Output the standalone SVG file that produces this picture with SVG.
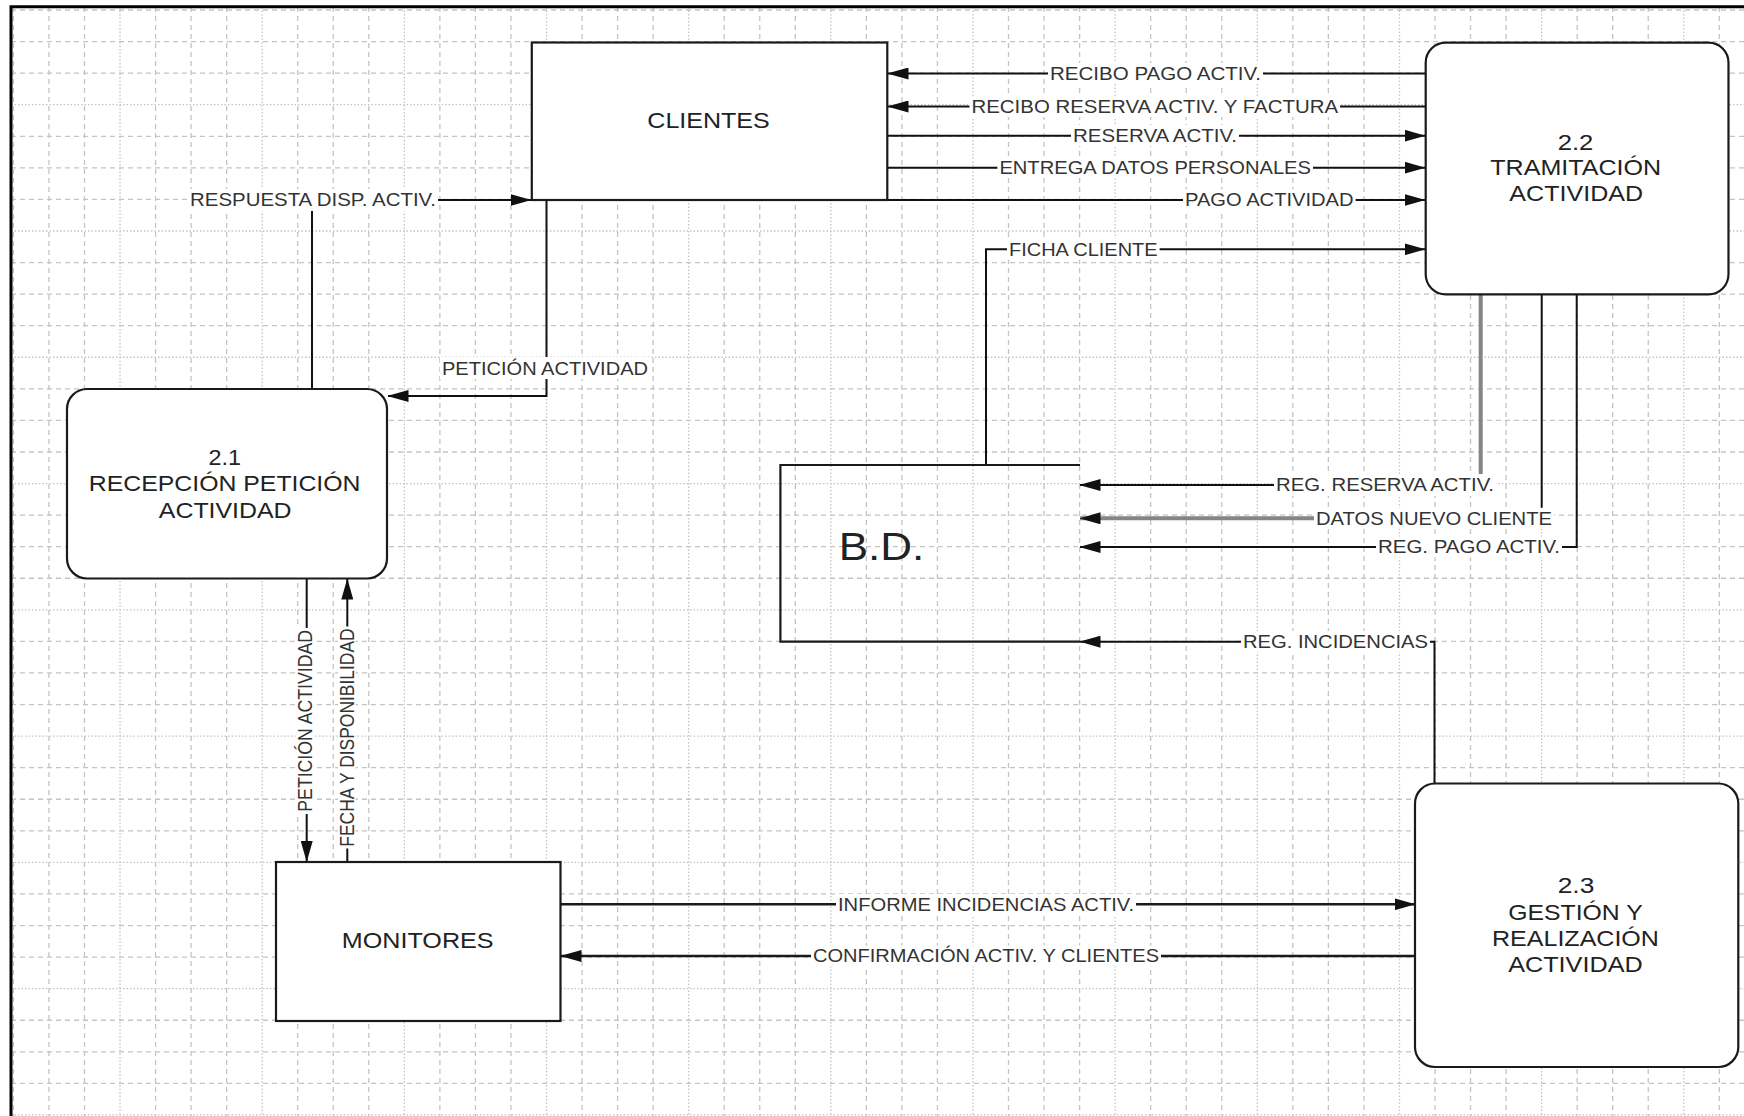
<svg xmlns="http://www.w3.org/2000/svg" width="1744" height="1116" viewBox="0 0 1744 1116">
<style>
.gd{fill:none;stroke:#c4c4c4;stroke-width:1.3;stroke-dasharray:5 4}
.gt{fill:none;stroke:#c4c4c4;stroke-width:1.3;stroke-dasharray:1.5 2}
.node{fill:#fff;stroke:#1a1a1a;stroke-width:2.2}
.store{fill:none;stroke:#1a1a1a;stroke-width:2.2}
.c{fill:none;stroke:#111;stroke-width:2}
.cw{fill:none;stroke:#1a1a1a;stroke-width:2.6}
.gray{fill:none;stroke:#858585;stroke-width:4}
.arr{marker-end:url(#ah)}
.nt{font-family:"Liberation Sans",Arial,sans-serif;font-size:22px;fill:#222}
.lbl{font-family:"Liberation Sans",Arial,sans-serif;font-size:17.5px;fill:#333}
.bg{fill:#fff}
</style>
<defs>
<marker id="ah" viewBox="0 0 21 12" markerWidth="21" markerHeight="12" refX="20.5" refY="6" orient="auto" markerUnits="userSpaceOnUse"><path d="M0 0L21 6L0 12z" fill="#111"/></marker>
</defs>
<rect width="1744" height="1116" fill="#fff"/>
<g id="grid">
<path class="gd" d="M13.4 7V1116M48.94 7V1116M84.48 7V1116M155.56 7V1116M191.1 7V1116M226.64 7V1116M297.72 7V1116M333.26 7V1116M368.8 7V1116M439.88 7V1116M475.42 7V1116M510.96 7V1116M582.04 7V1116M617.58 7V1116M653.12 7V1116M724.2 7V1116M759.74 7V1116M795.28 7V1116M866.36 7V1116M901.9 7V1116M937.44 7V1116M1008.52 7V1116M1044.06 7V1116M1079.6 7V1116M1150.68 7V1116M1186.22 7V1116M1221.76 7V1116M1292.84 7V1116M1328.38 7V1116M1363.92 7V1116M1435 7V1116M1470.54 7V1116M1506.08 7V1116M1577.16 7V1116M1612.7 7V1116M1648.24 7V1116M1719.32 7V1116"/>
<path class="gt" d="M120.02 7V1116M262.18 7V1116M404.34 7V1116M546.5 7V1116M688.66 7V1116M830.82 7V1116M972.98 7V1116M1115.14 7V1116M1257.3 7V1116M1399.46 7V1116M1541.62 7V1116M1683.78 7V1116"/>
<path class="gd" d="M11 10H1744M11 41.57H1744M11 73.14H1744M11 136.28H1744M11 167.85H1744M11 199.42H1744M11 262.56H1744M11 294.13H1744M11 325.7H1744M11 388.84H1744M11 420.41H1744M11 451.98H1744M11 515.12H1744M11 546.69H1744M11 578.26H1744M11 641.4H1744M11 672.97H1744M11 704.54H1744M11 767.68H1744M11 799.25H1744M11 830.82H1744M11 893.96H1744M11 925.53H1744M11 957.1H1744M11 1020.24H1744M11 1051.81H1744M11 1083.38H1744"/>
<path class="gt" d="M11 104.71H1744M11 230.99H1744M11 357.27H1744M11 483.55H1744M11 609.83H1744M11 736.11H1744M11 862.39H1744M11 988.67H1744M11 1114.95H1744"/>
</g>
<path id="frame" d="M11 1116V6.7H1744" fill="none" stroke="#000" stroke-width="3"/>

<g id="connectors">
<path class="c arr" d="M312 389V200H531"/>
<path class="c arr" d="M546.5 200V396H388"/>
<path class="c arr" d="M1425.7 73.5H888"/>
<path class="c arr" d="M1425.7 106.5H888"/>
<path class="c arr" d="M887.3 135.7H1425"/>
<path class="c arr" d="M887.3 167.7H1425"/>
<path class="c arr" d="M887.3 200H1425"/>
<path class="c arr" d="M986 465V249.3H1425"/>
<path class="gray" d="M1480.7 294.3V485"/>
<path class="c arr" d="M1480.7 485H1080"/>
<path class="c" d="M1541.7 294.3V518.3"/>
<path class="gray arr" d="M1541.7 518.3H1080"/>
<path class="c arr" d="M1576.7 294.3V547H1080"/>
<path class="c arr" d="M1434.5 783.5V641.7H1080"/>
<path class="c arr" d="M306.7 578.5V861.5"/>
<path class="c arr" d="M347.3 862V579"/>
<path class="cw arr" d="M560.5 904.3H1415"/>
<path class="cw arr" d="M1415 956H561"/>
</g>

<g id="node-clientes">
<rect class="node" x="531.8" y="42.5" width="355.5" height="157.5"/>
<text class="nt" x="647.3" y="128" textLength="122.5" lengthAdjust="spacingAndGlyphs">CLIENTES</text>
</g>
<g id="node-2-2">
<rect class="node" x="1425.7" y="42.7" width="302.8" height="251.6" rx="20"/>
<text class="nt" x="1557.7" y="149.6" textLength="35.6" lengthAdjust="spacingAndGlyphs">2.2</text>
<text class="nt" x="1490.3" y="174.6" textLength="170.9" lengthAdjust="spacingAndGlyphs">TRAMITACIÓN</text>
<text class="nt" x="1509.3" y="200.6" textLength="133.8" lengthAdjust="spacingAndGlyphs">ACTIVIDAD</text>
</g>
<g id="node-2-1">
<rect class="node" x="67" y="389" width="320" height="189.5" rx="20"/>
<text class="nt" x="208.6" y="464.6" textLength="32.5" lengthAdjust="spacingAndGlyphs">2.1</text>
<text class="nt" x="88.8" y="491.2" textLength="271.7" lengthAdjust="spacingAndGlyphs">RECEPCIÓN PETICIÓN</text>
<text class="nt" x="158.8" y="517.9" textLength="132.8" lengthAdjust="spacingAndGlyphs">ACTIVIDAD</text>
</g>
<g id="node-2-3">
<rect class="node" x="1415" y="783.5" width="323.3" height="283.5" rx="20"/>
<text class="nt" x="1557.7" y="892.9" textLength="36.6" lengthAdjust="spacingAndGlyphs">2.3</text>
<text class="nt" x="1508.2" y="919.6" textLength="134.5" lengthAdjust="spacingAndGlyphs">GESTIÓN Y</text>
<text class="nt" x="1492" y="946.2" textLength="166.9" lengthAdjust="spacingAndGlyphs">REALIZACIÓN</text>
<text class="nt" x="1508.2" y="971.9" textLength="134.5" lengthAdjust="spacingAndGlyphs">ACTIVIDAD</text>
</g>
<g id="node-monitores">
<rect class="node" x="276" y="862" width="284.5" height="159"/>
<text class="nt" x="341.8" y="947.9" textLength="151.8" lengthAdjust="spacingAndGlyphs">MONITORES</text>
</g>
<g id="node-bd">
<path class="store" d="M1080 465H780.4V641.7H1080"/>
<text class="nt" x="838.7" y="560.3" style="font-size:38px" textLength="85.6" lengthAdjust="spacingAndGlyphs">B.D.</text>
</g>

<g id="labels">
<rect class="bg" x="188" y="189" width="250" height="22"/>
<text class="lbl" x="190" y="206.3" textLength="246" lengthAdjust="spacingAndGlyphs">RESPUESTA DISP. ACTIV.</text>
<rect class="bg" x="440" y="357" width="210" height="22"/>
<text class="lbl" x="442" y="374.6" textLength="206" lengthAdjust="spacingAndGlyphs">PETICIÓN ACTIVIDAD</text>
<rect class="bg" x="1048" y="63" width="215" height="21"/>
<text class="lbl" x="1050" y="80" textLength="211" lengthAdjust="spacingAndGlyphs">RECIBO PAGO ACTIV.</text>
<rect class="bg" x="969.5" y="96" width="370.5" height="21"/>
<text class="lbl" x="971.5" y="113" textLength="366.5" lengthAdjust="spacingAndGlyphs">RECIBO RESERVA ACTIV. Y FACTURA</text>
<rect class="bg" x="1071" y="125" width="168" height="21"/>
<text class="lbl" x="1073" y="142" textLength="164" lengthAdjust="spacingAndGlyphs">RESERVA ACTIV.</text>
<rect class="bg" x="997.4" y="157" width="315.6" height="21"/>
<text class="lbl" x="999.4" y="174" textLength="311.6" lengthAdjust="spacingAndGlyphs">ENTREGA DATOS PERSONALES</text>
<rect class="bg" x="1183" y="189.5" width="172.6" height="21"/>
<text class="lbl" x="1185" y="206.3" textLength="168.6" lengthAdjust="spacingAndGlyphs">PAGO ACTIVIDAD</text>
<rect class="bg" x="1007" y="238.5" width="152.6" height="21"/>
<text class="lbl" x="1009" y="255.6" textLength="148.6" lengthAdjust="spacingAndGlyphs">FICHA CLIENTE</text>
<rect class="bg" x="1274" y="474" width="222" height="22"/>
<text class="lbl" x="1276" y="491.3" textLength="218" lengthAdjust="spacingAndGlyphs">REG. RESERVA ACTIV.</text>
<rect class="bg" x="1314" y="507.8" width="240" height="21"/>
<text class="lbl" x="1316" y="524.6" textLength="236" lengthAdjust="spacingAndGlyphs">DATOS NUEVO CLIENTE</text>
<rect class="bg" x="1376" y="536.5" width="186" height="21"/>
<text class="lbl" x="1378" y="553.3" textLength="182" lengthAdjust="spacingAndGlyphs">REG. PAGO ACTIV.</text>
<rect class="bg" x="1241" y="631" width="189" height="21"/>
<text class="lbl" x="1243" y="648" textLength="185" lengthAdjust="spacingAndGlyphs">REG. INCIDENCIAS</text>
<rect class="bg" x="836" y="894" width="300" height="21"/>
<text class="lbl" x="838" y="910.6" textLength="296" lengthAdjust="spacingAndGlyphs">INFORME INCIDENCIAS ACTIV.</text>
<rect class="bg" x="811" y="945.5" width="350" height="21"/>
<text class="lbl" x="813" y="962.3" textLength="346" lengthAdjust="spacingAndGlyphs">CONFIRMACIÓN ACTIV. Y CLIENTES</text>
<rect class="bg" x="295.5" y="628" width="18" height="186"/>
<text class="lbl" transform="translate(311.5 811.7) scale(1.127 1) rotate(-90)" x="0" y="0" textLength="181.7" lengthAdjust="spacingAndGlyphs">PETICIÓN ACTIVIDAD</text>
<rect class="bg" x="338" y="626.5" width="17.5" height="222"/>
<text class="lbl" transform="translate(353.5 846.7) scale(1.127 1) rotate(-90)" x="0" y="0" textLength="218.4" lengthAdjust="spacingAndGlyphs">FECHA Y DISPONIBILIDAD</text>
</g>
</svg>
